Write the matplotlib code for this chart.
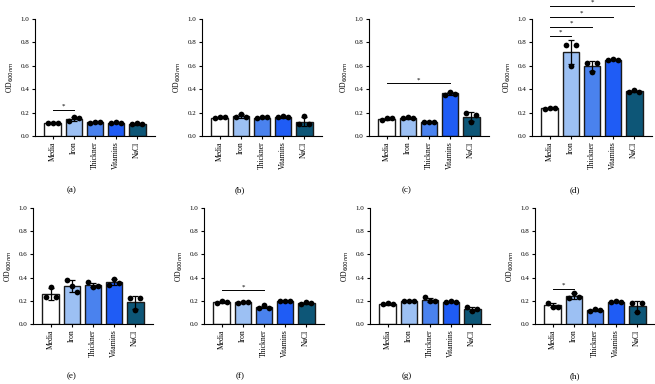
import numpy as np
import matplotlib
matplotlib.use("Agg")
import matplotlib.pyplot as plt

plt.rcParams['font.family'] = ['Liberation Serif', 'DejaVu Serif']

groups = ["Media", "Iron", "Thickner", "Vitamins", "NaCl"]
colors = ["#ffffff", "#9cc0f3", "#4a82ee", "#1f5cf5", "#0d5677"]

# three replicates per group, one list per panel
reps_a = [[0.11, 0.11, 0.11], [0.13, 0.16, 0.15], [0.11, 0.12, 0.12], [0.11, 0.12, 0.11], [0.10, 0.11, 0.10]]
reps_b = [[0.15, 0.16, 0.16], [0.16, 0.19, 0.16], [0.15, 0.16, 0.16], [0.16, 0.17, 0.16], [0.10, 0.17, 0.10]]
reps_c = [[0.14, 0.15, 0.15], [0.15, 0.16, 0.15], [0.12, 0.12, 0.12], [0.35, 0.38, 0.36], [0.20, 0.12, 0.18]]
reps_d = [[0.23, 0.24, 0.24], [0.78, 0.60, 0.78], [0.62, 0.55, 0.62], [0.65, 0.66, 0.65], [0.38, 0.39, 0.38]]
reps_e = [[0.23, 0.32, 0.23], [0.38, 0.33, 0.28], [0.36, 0.32, 0.33], [0.34, 0.39, 0.35], [0.22, 0.12, 0.22]]
reps_f = [[0.18, 0.20, 0.19], [0.18, 0.19, 0.19], [0.14, 0.16, 0.14], [0.20, 0.20, 0.20], [0.17, 0.19, 0.18]]
reps_g = [[0.17, 0.18, 0.17], [0.20, 0.20, 0.20], [0.23, 0.20, 0.20], [0.19, 0.20, 0.19], [0.15, 0.11, 0.13]]
reps_h = [[0.18, 0.15, 0.15], [0.22, 0.27, 0.23], [0.11, 0.13, 0.12], [0.19, 0.20, 0.19], [0.18, 0.10, 0.18]]

# significance brackets: (group from, group to, height)
sig_a = [(0, 1, 0.22)]
sig_b = []
sig_c = [(0, 3, 0.45)]
sig_d = [(0, 1, 0.855), (0, 2, 0.935), (0, 3, 1.02), (0, 4, 1.11)]
sig_e = []
sig_f = [(0, 2, 0.29)]
sig_g = []
sig_h = [(0, 1, 0.30)]

panels = [
    ("(a)", reps_a, sig_a), ("(b)", reps_b, sig_b), ("(c)", reps_c, sig_c), ("(d)", reps_d, sig_d),
    ("(e)", reps_e, sig_e), ("(f)", reps_f, sig_f), ("(g)", reps_g, sig_g), ("(h)", reps_h, sig_h),
]

W, H = 655, 384
fig = plt.figure(figsize=(W / 100, H / 100), dpi=100)

# axes placement in pixels: left spine, top (y=1.0), bottom (y=0)
lefts = [35, 202, 369, 532, 33, 204, 370, 535]
tops = [19] * 4 + [208] * 4
bottoms = [136] * 4 + [324] * 4
width = 120
cap_x = [72, 240, 407, 575, 72, 240, 407, 575]
cap_y = [190, 190, 190, 190, 376, 376, 376, 376]

x = np.arange(len(groups))
offsets = np.array([-0.25, 0.0, 0.25])

for i, (label, reps, sigs) in enumerate(panels):
    l, t, b = lefts[i], tops[i], bottoms[i]
    ax = fig.add_axes([l / W, 1 - b / H, width / W, (b - t) / H])
    reps = np.array(reps)
    means = reps.mean(axis=1)
    sds = reps.std(axis=1, ddof=1)

    ax.bar(x, means, width=0.8, color=colors, edgecolor="#1a1a1a", linewidth=1.0, zorder=2)
    ax.errorbar(x, means, yerr=sds, fmt="none", ecolor="black", elinewidth=0.9,
                capsize=2.4, capthick=0.9, zorder=3)
    for j in range(len(groups)):
        ax.scatter(x[j] + offsets, reps[j], s=17, color="black", zorder=4, linewidths=0)

    for g1, g2, h in sigs:
        ax.plot([x[g1], x[g2]], [h, h], color="black", lw=0.7, clip_on=False)
        ax.text((x[g1] + x[g2]) / 2, h + 0.01, "*", ha="center", va="bottom", fontsize=5, clip_on=False)

    ax.set_xlim(-0.85, 4.85)
    ax.set_ylim(0, 1.0)
    ax.set_yticks([0, 0.2, 0.4, 0.6, 0.8, 1.0])
    ax.set_yticklabels(["0.0", "0.2", "0.4", "0.6", "0.8", "1.0"], fontsize=5)
    ax.set_xticks(x)
    ax.set_xticklabels(groups, rotation=90, fontsize=5.5)
    ax.set_ylabel("OD$_{600nm}$", fontsize=5.5, labelpad=3)
    ax.spines["top"].set_visible(False)
    ax.spines["right"].set_visible(False)
    ax.spines["left"].set_linewidth(0.8)
    ax.spines["bottom"].set_linewidth(0.8)
    ax.tick_params(axis="both", direction="out", length=2.5, width=0.8, pad=1.5)

    fig.text(cap_x[i] / W, 1 - cap_y[i] / H, label, ha="center", va="center", fontsize=6.5)

fig.savefig("out.png", dpi=100, facecolor="white")
